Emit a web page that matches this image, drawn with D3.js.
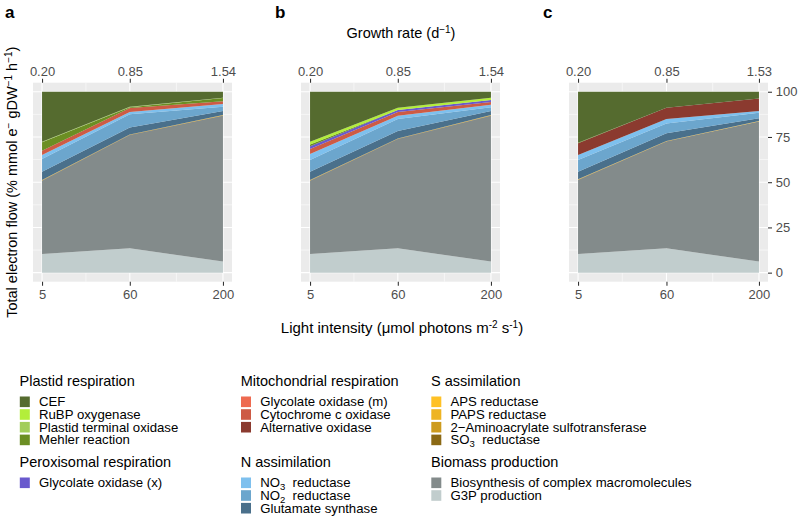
<!DOCTYPE html>
<html>
<head>
<meta charset="utf-8">
<script src="https://cdn.jsdelivr.net/npm/d3@7"></script>
<style>
  body { margin: 0; background: #fff; }
  text { font-family: "Liberation Sans", Arial, sans-serif; }
</style>
</head>
<body>
<div id="chart"></div>
<script>
// ---- data ----
const SERIES = ["CEF", "RuBP oxygenase", "Plastid terminal oxidase", "Mehler reaction",
  "Glycolate oxidase (x)", "Glycolate oxidase (m)", "Cytochrome c oxidase", "Alternative oxidase",
  "NO_3 reductase", "NO_2 reductase", "Glutamate synthase",
  "APS reductase", "PAPS reductase", "2\u2212Aminoacrylate sulfotransferase", "SO_3 reductase",
  "Biosynthesis of complex macromolecules", "G3P production"];

const COLORS = ["#556B2F", "#B3EE3A", "#A2CD5A", "#6B8E23",
  "#6959CD", "#EE6A50", "#CD5B45", "#8B3A2F",
  "#7EC0EE", "#6CA6CD", "#4A708B",
  "#FFC125", "#EEB422", "#CD9B1D", "#8B6914",
  "#838B8B", "#C1CDCD"];

const GROWTH_A = [0.20, 0.85, 1.54];
const GROWTH_B = [0.20, 0.85, 1.54];
const GROWTH_C = [0.20, 0.85, 1.53];
const GROWTH_LABELS_A = ["0.20", "0.85", "1.54"];
const GROWTH_LABELS_B = ["0.20", "0.85", "1.54"];
const GROWTH_LABELS_C = ["0.20", "0.85", "1.53"];
const LIGHT_LABELS = ["5", "60", "200"];
const Y_TICKS = [0, 25, 50, 75, 100];

// rows follow SERIES order, columns the three light levels
const VALUES_A = [
  [27.6, 8.3, 3.3], [0, 0, 0], [0.3, 0.3, 0.2], [4.7, 0.4, 1.8],
  [0, 0, 0], [0, 0, 0], [2.4, 2.2, 1.5], [0, 0, 0],
  [2.2, 1.3, 1.5], [7.0, 7.2, 2.4], [4.6, 3.9, 2.2],
  [0.05, 0.05, 0.05], [0.05, 0.05, 0.05], [0.1, 0.1, 0.1], [0.2, 0.1, 0.1],
  [40.5, 62.6, 80.7], [10.3, 13.5, 6.1]];

const VALUES_B = [
  [27.6, 8.8, 3.3], [1.5, 1.3, 1.3], [0, 0, 0], [1.0, 0, 0],
  [1.6, 1.1, 1.1], [0, 0, 0], [2.7, 2.0, 1.5], [0, 0, 0],
  [3.3, 1.9, 1.4], [6.5, 6.6, 2.1], [4.6, 4.1, 2.2],
  [0.05, 0.05, 0.05], [0.05, 0.05, 0.05], [0.1, 0.1, 0.1], [0.2, 0.1, 0.1],
  [40.5, 60.4, 80.7], [10.3, 13.5, 6.1]];

const VALUES_C = [
  [28.2, 8.8, 3.7], [0, 0, 0], [0, 0, 0], [0.3, 0, 0],
  [0, 0, 0], [0, 0, 0], [0, 0, 0], [6.5, 6.3, 7.0],
  [2.7, 2.4, 0.9], [6.5, 5.5, 3.1], [4.2, 4.2, 1.5],
  [0.05, 0.05, 0.05], [0.05, 0.05, 0.05], [0.1, 0.1, 0.1], [0.2, 0.1, 0.1],
  [40.9, 59.0, 77.4], [10.3, 13.5, 6.1]];

const LEGEND_TITLES = ["Plastid respiration", "Peroxisomal respiration", "Mitochondrial respiration",
  "N assimilation", "S assimilation", "Biomass production"];
const LEGEND_MEMBERS = [[0, 1, 2, 3], [4], [5, 6, 7], [8, 9, 10], [11, 12, 13, 14], [15, 16]];

// ---- layout ----
const WIDTH = 800, HEIGHT = 517;
const PANEL_TOP = 82.7, PANEL_H = 199, PANEL_W = 199;
const PANEL_X = [33, 301, 569];

const svg = d3.select("#chart").append("svg")
  .attr("width", WIDTH).attr("height", HEIGHT);

const panels = [
  {x0: PANEL_X[0], growth: GROWTH_A, labels: GROWTH_LABELS_A, values: VALUES_A, tag: "a", tagX: 5},
  {x0: PANEL_X[1], growth: GROWTH_B, labels: GROWTH_LABELS_B, values: VALUES_B, tag: "b", tagX: 275},
  {x0: PANEL_X[2], growth: GROWTH_C, labels: GROWTH_LABELS_C, values: VALUES_C, tag: "c", tagX: 543}
];

const yScale = d3.scaleLinear().domain([-5, 105]).range([PANEL_TOP + PANEL_H, PANEL_TOP]);

panels.forEach((p, pi) => {
  const g0 = p.growth[0], g2 = p.growth[2];
  const pad = (g2 - g0) * 0.05;
  const xScale = d3.scaleLinear().domain([g0 - pad, g2 + pad]).range([p.x0, p.x0 + PANEL_W]);

  const g = svg.append("g");
  g.append("rect").attr("x", p.x0).attr("y", PANEL_TOP)
    .attr("width", PANEL_W).attr("height", PANEL_H).attr("fill", "#EBEBEB");

  // minor grid
  const minorX = [(p.growth[0] + p.growth[1]) / 2, (p.growth[1] + p.growth[2]) / 2];
  const minorY = [12.5, 37.5, 62.5, 87.5];
  g.selectAll(".mx").data(minorX).enter().append("line")
    .attr("x1", d => xScale(d)).attr("x2", d => xScale(d))
    .attr("y1", PANEL_TOP).attr("y2", PANEL_TOP + PANEL_H)
    .attr("stroke", "#fff").attr("stroke-width", 0.55);
  g.selectAll(".my").data(minorY).enter().append("line")
    .attr("x1", p.x0).attr("x2", p.x0 + PANEL_W)
    .attr("y1", d => yScale(d)).attr("y2", d => yScale(d))
    .attr("stroke", "#fff").attr("stroke-width", 0.55);
  // major grid
  g.selectAll(".Mx").data(p.growth).enter().append("line")
    .attr("x1", d => xScale(d)).attr("x2", d => xScale(d))
    .attr("y1", PANEL_TOP).attr("y2", PANEL_TOP + PANEL_H)
    .attr("stroke", "#fff").attr("stroke-width", 1.1);
  g.selectAll(".My").data(Y_TICKS).enter().append("line")
    .attr("x1", p.x0).attr("x2", p.x0 + PANEL_W)
    .attr("y1", d => yScale(d)).attr("y2", d => yScale(d))
    .attr("stroke", "#fff").attr("stroke-width", 1.1);

  // stacked areas: last series at the bottom
  const rows = p.growth.map((gr, i) => {
    const r = {growth: gr};
    SERIES.forEach((s, si) => { r[s] = p.values[si][i]; });
    return r;
  });
  const keys = SERIES.slice().reverse();
  const stacked = d3.stack().keys(keys)(rows);
  const area = d3.area()
    .x(d => xScale(d.data.growth))
    .y0(d => yScale(d[0]))
    .y1(d => yScale(d[1]));
  g.selectAll(".layer").data(stacked).enter().append("path")
    .attr("d", area)
    .attr("fill", d => COLORS[SERIES.indexOf(d.key)]);

  // axes
  const top = g.append("g").attr("transform", "translate(0," + PANEL_TOP + ")")
    .call(d3.axisTop(xScale).tickValues(p.growth)
      .tickFormat((d, i) => p.labels[i]).tickSize(4).tickPadding(3.2));
  const bottom = g.append("g").attr("transform", "translate(0," + (PANEL_TOP + PANEL_H) + ")")
    .call(d3.axisBottom(xScale).tickValues(p.growth)
      .tickFormat((d, i) => LIGHT_LABELS[i]).tickSize(4).tickPadding(3.6));
  const axes = [top, bottom];
  if (pi === 2) {
    const right = g.append("g").attr("transform", "translate(" + (p.x0 + PANEL_W) + ",0)")
      .call(d3.axisRight(yScale).tickValues(Y_TICKS).tickSize(4).tickPadding(3.7));
    axes.push(right);
  }
  axes.forEach(a => {
    a.select(".domain").remove();
    a.selectAll("line").attr("stroke", "#333").attr("stroke-width", 1.07);
    a.selectAll("text").attr("fill", "#4D4D4D").attr("font-size", "13px")
      .attr("font-family", "'Liberation Sans', Arial, sans-serif");
  });

  svg.append("text").attr("x", p.tagX).attr("y", 17.5)
    .attr("font-size", "17px").attr("font-weight", "bold").text(p.tag);
});

// axis titles
const gt = svg.append("text").attr("x", 401).attr("y", 38)
  .attr("text-anchor", "middle").attr("font-size", "14.5px");
gt.append("tspan").text("Growth rate (d");
gt.append("tspan").attr("font-size", "10px").attr("dy", -5).text("\u22121");
gt.append("tspan").attr("dy", 5).text(")");

const yt = svg.append("text")
  .attr("transform", "translate(17," + (PANEL_TOP + PANEL_H / 2) + ") rotate(-90)")
  .attr("text-anchor", "middle").attr("font-size", "14.5px");
yt.append("tspan").text("Total electron flow (% mmol e");
yt.append("tspan").attr("font-size", "10px").attr("dy", -5).text("\u2212");
yt.append("tspan").attr("dy", 5).text(" gDW");
yt.append("tspan").attr("font-size", "10px").attr("dy", -5).text("\u22121");
yt.append("tspan").attr("dy", 5).text(" h");
yt.append("tspan").attr("font-size", "10px").attr("dy", -5).text("\u22121");
yt.append("tspan").attr("dy", 5).text(")");

const xt = svg.append("text").attr("x", 402).attr("y", 333)
  .attr("text-anchor", "middle").attr("font-size", "15px")
  .style("font-family", "'Liberation Sans Narrow', 'Arial Narrow', sans-serif")
  .style("font-stretch", "condensed");
xt.append("tspan").text("Light intensity (\u03bcmol photons m");
xt.append("tspan").attr("font-size", "10px").attr("dy", -5).text("-2");
xt.append("tspan").attr("dy", 5).text(" s");
xt.append("tspan").attr("font-size", "10px").attr("dy", -5).text("-1");
xt.append("tspan").attr("dy", 5).text(")");

// legend
const LEG_COL_X = [19.5, 240.7, 431];
const LEG_ROW_Y = [380.7, 461.7];
const ITEM_STEP = 12.7;

function addLabel(sel, label) {
  const parts = label.split(/_(\d)/);
  parts.forEach((t, i) => {
    if (i % 2 === 1) {
      sel.append("tspan").attr("font-size", "9.5px").attr("dy", 3).text(t);
      sel.append("tspan").attr("dy", -3).text("\u00a0");
    } else if (t.length) {
      sel.append("tspan").text(t);
    }
  });
}

LEGEND_TITLES.forEach((title, gi) => {
  const cx = LEG_COL_X[Math.floor(gi / 2)];
  const cy = LEG_ROW_Y[gi % 2];
  svg.append("text").attr("x", cx).attr("y", cy + 5)
    .attr("font-size", "14.5px").attr("fill", "#000").text(title);
  LEGEND_MEMBERS[gi].forEach((si, k) => {
    const iy = cy + 21 + k * ITEM_STEP;
    svg.append("rect").attr("x", cx + 0.3).attr("y", iy - 5.2)
      .attr("width", 10).attr("height", 10.6).attr("fill", COLORS[si]);
    const t = svg.append("text").attr("x", cx + 19.5).attr("y", iy + 4.6)
      .attr("font-size", "13.2px").attr("fill", "#000");
    addLabel(t, SERIES[si]);
  });
});
</script>
</body>
</html>
